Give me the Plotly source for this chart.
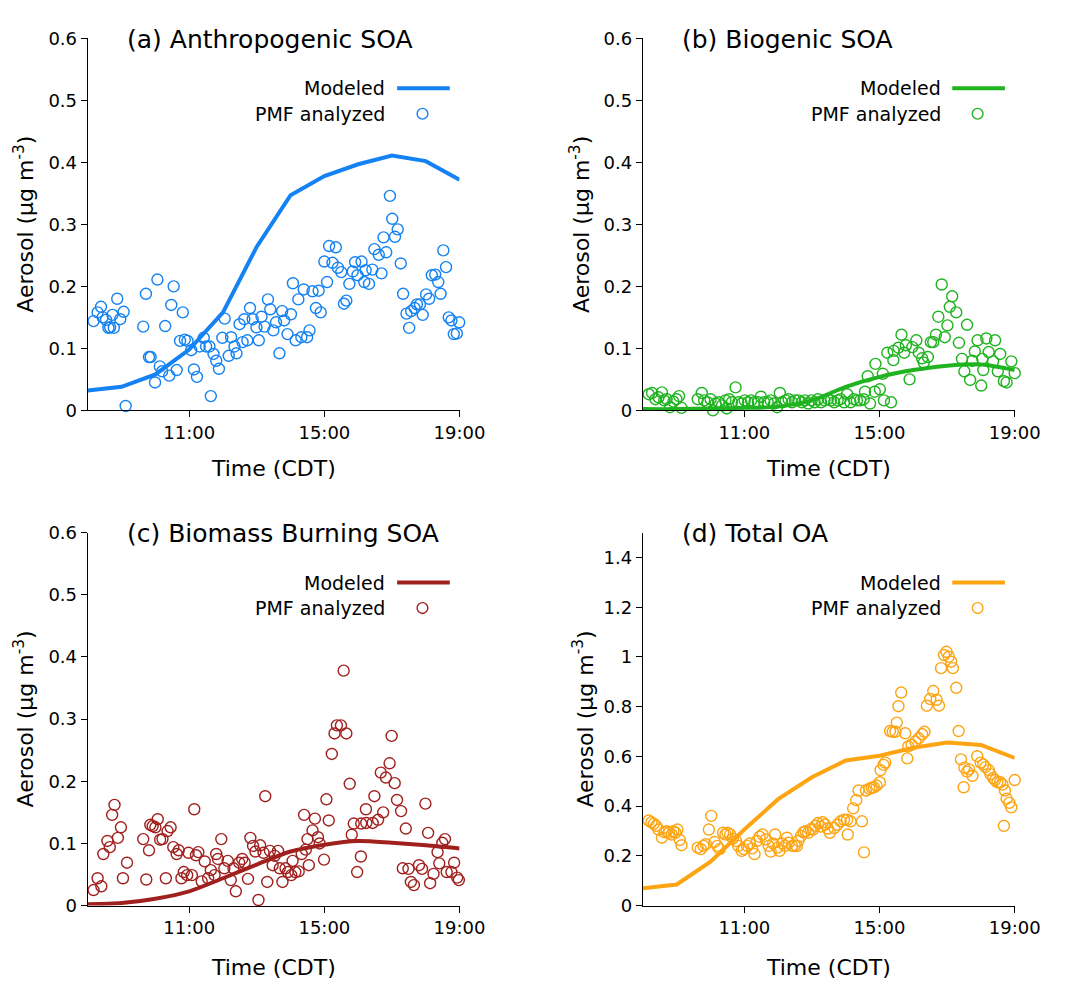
import plotly.graph_objects as go

# ---------------- data ----------------
model_hours = [8, 9, 10, 11, 12, 13, 14, 15, 16, 17, 18, 19]
tick_vals = [11, 15, 19]
tick_text = ["11:00", "15:00", "19:00"]

anth_model = [0.032, 0.038, 0.058, 0.098, 0.158, 0.264, 0.347, 0.378, 0.397, 0.411, 0.402, 0.372]
anth_t = [8.17, 8.29, 8.39, 8.44, 8.54, 8.61, 8.66, 8.73, 8.77, 8.87,
          8.96, 9.06, 9.12, 9.64, 9.72, 9.81, 9.86, 9.99, 10.06, 10.13,
          10.20, 10.29, 10.41, 10.47, 10.54, 10.63, 10.73, 10.81, 10.87, 10.95,
          11.06, 11.14, 11.23, 11.31, 11.43, 11.50, 11.60, 11.64, 11.72, 11.80,
          11.88, 11.98, 12.05, 12.17, 12.24, 12.34, 12.40, 12.49, 12.58, 12.63,
          12.72, 12.80, 12.88, 12.99, 13.06, 13.14, 13.23, 13.33, 13.40, 13.49,
          13.57, 13.67, 13.75, 13.81, 13.91, 14.01, 14.07, 14.15, 14.23, 14.32,
          14.39, 14.49, 14.56, 14.65, 14.75, 14.83, 14.89, 15.00, 15.08, 15.14,
          15.24, 15.34, 15.40, 15.50, 15.58, 15.65, 15.74, 15.84, 15.91, 15.98,
          16.10, 16.18, 16.22, 16.32, 16.42, 16.48, 16.61, 16.69, 16.75, 16.83,
          16.94, 17.01, 17.09, 17.17, 17.26, 17.33, 17.43, 17.51, 17.57, 17.67,
          17.74, 17.83, 17.91, 18.01, 18.10, 18.18, 18.28, 18.37, 18.44, 18.52,
          18.60, 18.68, 18.76, 18.83, 18.92, 18.99]
anth_v = [0.144, 0.158, 0.167, 0.150, 0.146, 0.133, 0.134, 0.154, 0.133, 0.180,
          0.147, 0.159, 0.007, 0.135, 0.188, 0.086, 0.086, 0.045, 0.211, 0.071,
          0.063, 0.136, 0.056, 0.170, 0.200, 0.065, 0.112, 0.158, 0.114, 0.112,
          0.097, 0.066, 0.054, 0.103, 0.117, 0.103, 0.103, 0.023, 0.091, 0.080,
          0.067, 0.117, 0.148, 0.088, 0.118, 0.103, 0.092, 0.139, 0.110, 0.147,
          0.113, 0.165, 0.147, 0.134, 0.113, 0.151, 0.135, 0.179, 0.163, 0.129,
          0.142, 0.092, 0.160, 0.145, 0.123, 0.155, 0.205, 0.113, 0.179, 0.118,
          0.195, 0.118, 0.129, 0.192, 0.165, 0.193, 0.158, 0.240, 0.207, 0.265,
          0.238, 0.263, 0.230, 0.223, 0.172, 0.177, 0.204, 0.224, 0.239, 0.218,
          0.240, 0.207, 0.226, 0.204, 0.227, 0.260, 0.251, 0.221, 0.279, 0.255,
          0.346, 0.309, 0.280, 0.292, 0.237, 0.188, 0.156, 0.133, 0.160, 0.165,
          0.171, 0.171, 0.154, 0.187, 0.180, 0.218, 0.219, 0.207, 0.188, 0.258,
          0.231, 0.150, 0.145, 0.123, 0.124, 0.142]

bio_model = [0.002, 0.002, 0.003, 0.004, 0.006, 0.016, 0.038, 0.054, 0.065, 0.072, 0.074, 0.065]
bio_t = [8.17, 8.27, 8.37, 8.46, 8.56, 8.63, 8.70, 8.80, 8.90, 8.99,
         9.07, 9.14, 9.62, 9.74, 9.81, 9.91, 10.00, 10.07, 10.15, 10.24,
         10.34, 10.44, 10.48, 10.55, 10.63, 10.74, 10.82, 10.92, 11.01, 11.11,
         11.20, 11.30, 11.40, 11.49, 11.59, 11.69, 11.78, 11.88, 11.97, 12.05,
         12.12, 12.22, 12.31, 12.41, 12.50, 12.60, 12.70, 12.79, 12.89, 12.99,
         13.08, 13.18, 13.27, 13.37, 13.47, 13.56, 13.66, 13.76, 13.85, 13.95,
         14.04, 14.14, 14.24, 14.33, 14.43, 14.53, 14.57, 14.65, 14.72, 14.86,
         14.88, 15.01, 15.10, 15.13, 15.23, 15.34, 15.41, 15.42, 15.56, 15.65,
         15.73, 15.78, 15.89, 15.97, 16.09, 16.16, 16.26, 16.31, 16.43, 16.52,
         16.59, 16.67, 16.74, 16.84, 16.93, 17.01, 17.08, 17.15, 17.27, 17.35,
         17.44, 17.51, 17.59, 17.68, 17.75, 17.82, 17.90, 18.01, 18.04, 18.07,
         18.16, 18.23, 18.36, 18.42, 18.50, 18.57, 18.68, 18.76, 18.90, 19.00]
bio_v = [0.026, 0.028, 0.018, 0.021, 0.029, 0.016, 0.018, 0.005, 0.014, 0.018,
         0.023, 0.004, 0.018, 0.028, 0.016, 0.013, 0.018, 0.000, 0.011, 0.013,
         0.008, 0.016, 0.003, 0.018, 0.013, 0.037, 0.013, 0.011, 0.016, 0.013,
         0.016, 0.013, 0.013, 0.022, 0.013, 0.013, 0.016, 0.011, 0.005, 0.028,
         0.013, 0.016, 0.018, 0.013, 0.016, 0.016, 0.013, 0.016, 0.011, 0.016,
         0.013, 0.018, 0.013, 0.016, 0.018, 0.016, 0.013, 0.016, 0.018, 0.013,
         0.026, 0.013, 0.018, 0.016, 0.016, 0.018, 0.030, 0.055, 0.011, 0.030,
         0.075, 0.034, 0.059, 0.016, 0.093, 0.013, 0.081, 0.096, 0.101, 0.122,
         0.093, 0.105, 0.050, 0.102, 0.113, 0.093, 0.084, 0.077, 0.086, 0.110,
         0.110, 0.122, 0.151, 0.203, 0.118, 0.137, 0.167, 0.184, 0.158, 0.109,
         0.083, 0.063, 0.138, 0.049, 0.080, 0.095, 0.113, 0.040, 0.083, 0.065,
         0.116, 0.094, 0.079, 0.113, 0.063, 0.091, 0.047, 0.045, 0.079, 0.060]

bb_model = [0.002, 0.004, 0.011, 0.023, 0.044, 0.066, 0.087, 0.098, 0.104, 0.101, 0.097, 0.092]
bb_t = [8.17, 8.29, 8.40, 8.46, 8.58, 8.65, 8.72, 8.79, 8.89, 8.98,
        9.04, 9.16, 9.64, 9.73, 9.81, 9.85, 9.92, 10.00, 10.07, 10.14,
        10.21, 10.31, 10.36, 10.45, 10.53, 10.63, 10.69, 10.77, 10.84, 10.94,
        10.98, 11.08, 11.15, 11.20, 11.27, 11.37, 11.46, 11.56, 11.64, 11.75,
        11.80, 11.85, 11.95, 12.04, 12.14, 12.23, 12.31, 12.38, 12.48, 12.57,
        12.64, 12.74, 12.81, 12.89, 12.96, 13.05, 13.10, 13.20, 13.25, 13.31,
        13.39, 13.47, 13.53, 13.63, 13.68, 13.76, 13.85, 13.92, 14.02, 14.06,
        14.14, 14.24, 14.33, 14.40, 14.45, 14.50, 14.54, 14.65, 14.72, 14.81,
        14.86, 14.99, 15.06, 15.13, 15.22, 15.30, 15.37, 15.49, 15.57, 15.65,
        15.75, 15.81, 15.87, 15.97, 16.08, 16.09, 16.23, 16.24, 16.43, 16.48,
        16.59, 16.67, 16.74, 16.82, 16.93, 16.99, 17.08, 17.15, 17.27, 17.32,
        17.41, 17.49, 17.56, 17.65, 17.80, 17.89, 17.99, 18.07, 18.13, 18.23,
        18.35, 18.40, 18.49, 18.57, 18.62, 18.76, 18.84, 18.93, 18.98]
bb_v = [0.025, 0.044, 0.031, 0.083, 0.104, 0.094, 0.146, 0.162, 0.109, 0.126,
        0.044, 0.069, 0.107, 0.042, 0.089, 0.130, 0.128, 0.126, 0.139, 0.106,
        0.107, 0.044, 0.120, 0.126, 0.094, 0.083, 0.089, 0.044, 0.054, 0.049,
        0.085, 0.049, 0.155, 0.081, 0.086, 0.039, 0.071, 0.044, 0.057, 0.049,
        0.083, 0.075, 0.107, 0.060, 0.072, 0.041, 0.060, 0.023, 0.069, 0.075,
        0.069, 0.043, 0.109, 0.096, 0.087, 0.009, 0.097, 0.085, 0.176, 0.038,
        0.088, 0.065, 0.080, 0.088, 0.060, 0.038, 0.060, 0.054, 0.049, 0.072,
        0.054, 0.055, 0.083, 0.146, 0.090, 0.107, 0.065, 0.121, 0.140, 0.110,
        0.100, 0.074, 0.171, 0.137, 0.244, 0.277, 0.290, 0.290, 0.378, 0.277,
        0.196, 0.114, 0.132, 0.054, 0.079, 0.132, 0.155, 0.133, 0.133, 0.176,
        0.138, 0.214, 0.150, 0.206, 0.229, 0.273, 0.197, 0.170, 0.152, 0.060,
        0.124, 0.059, 0.038, 0.033, 0.065, 0.059, 0.164, 0.117, 0.036, 0.051,
        0.086, 0.068, 0.101, 0.107, 0.054, 0.054, 0.069, 0.045, 0.041]

oa_model = [0.070, 0.085, 0.177, 0.306, 0.428, 0.516, 0.584, 0.603, 0.635, 0.656, 0.646, 0.594]
oa_t = [8.17, 8.25, 8.32, 8.39, 8.46, 8.56, 8.64, 8.70, 8.77, 8.85,
        8.90, 8.96, 9.02, 9.09, 9.14, 9.62, 9.71, 9.79, 9.86, 9.95,
        10.02, 10.12, 10.20, 10.27, 10.37, 10.44, 10.50, 10.58, 10.66, 10.75,
        10.82, 10.92, 10.98, 11.08, 11.16, 11.23, 11.30, 11.37, 11.45, 11.54,
        11.64, 11.72, 11.78, 11.85, 11.91, 11.98, 12.04, 12.12, 12.20, 12.26,
        12.31, 12.41, 12.49, 12.55, 12.60, 12.68, 12.75, 12.81, 12.89, 12.97,
        13.03, 13.10, 13.18, 13.26, 13.32, 13.39, 13.47, 13.53, 13.66, 13.75,
        13.85, 13.95, 14.04, 14.06, 14.14, 14.22, 14.31, 14.38, 14.48, 14.54,
        14.60, 14.70, 14.77, 14.83, 14.91, 15.01, 15.03, 15.12, 15.17, 15.31,
        15.39, 15.47, 15.51, 15.56, 15.64, 15.76, 15.82, 15.85, 15.95, 16.06,
        16.16, 16.26, 16.33, 16.40, 16.50, 16.59, 16.69, 16.76, 16.82, 16.91,
        16.98, 17.05, 17.12, 17.17, 17.27, 17.34, 17.41, 17.49, 17.51, 17.59,
        17.65, 17.75, 17.89, 17.99, 18.07, 18.13, 18.23, 18.28, 18.36, 18.42,
        18.49, 18.57, 18.64, 18.68, 18.71, 18.76, 18.84, 18.90, 19.00]
oa_v = [0.342, 0.335, 0.329, 0.321, 0.306, 0.273, 0.295, 0.299, 0.293, 0.286,
        0.299, 0.293, 0.306, 0.264, 0.243, 0.233, 0.227, 0.240, 0.247, 0.306,
        0.361, 0.256, 0.240, 0.227, 0.293, 0.286, 0.293, 0.286, 0.269, 0.260,
        0.240, 0.220, 0.227, 0.240, 0.250, 0.230, 0.207, 0.260, 0.277, 0.286,
        0.266, 0.240, 0.217, 0.250, 0.286, 0.233, 0.220, 0.250, 0.240, 0.273,
        0.253, 0.240, 0.242, 0.239, 0.260, 0.280, 0.295, 0.299, 0.293, 0.308,
        0.306, 0.321, 0.332, 0.318, 0.335, 0.326, 0.310, 0.293, 0.312, 0.325,
        0.339, 0.345, 0.345, 0.286, 0.339, 0.391, 0.424, 0.463, 0.339, 0.214,
        0.463, 0.470, 0.474, 0.476, 0.483, 0.496, 0.545, 0.566, 0.575, 0.702,
        0.699, 0.699, 0.736, 0.802, 0.857, 0.693, 0.592, 0.640, 0.647, 0.660,
        0.673, 0.689, 0.699, 0.804, 0.831, 0.863, 0.828, 0.804, 0.955, 1.008,
        1.021, 1.001, 0.981, 0.955, 0.876, 0.702, 0.588, 0.476, 0.555, 0.539,
        0.548, 0.522, 0.601, 0.575, 0.568, 0.557, 0.545, 0.529, 0.513, 0.505,
        0.496, 0.496, 0.487, 0.321, 0.463, 0.430, 0.413, 0.395, 0.505]

# ---------------- layout helpers ----------------
W, H = 1069, 989
FONT = "DejaVu Sans"


def px(x):
    return x / W


def py(y):
    return 1 - y / H


panels = [
    dict(title="(a) Anthropogenic SOA", color="#1482F2", t=anth_t, v=anth_v, m=anth_model,
         box=(90, 471, 28, 408), yrange=[0, 0.6], dtick=0.1, shape="linear", ytitle_x=25, xtitle_y=467),
    dict(title="(b) Biogenic SOA", color="#1FB41F", t=bio_t, v=bio_v, m=bio_model,
         box=(659, 1040, 28, 408), yrange=[0, 0.6], dtick=0.1, shape="spline", ytitle_x=595, xtitle_y=467),
    dict(title="(c) Biomass Burning SOA", color="#A0201E", t=bb_t, v=bb_v, m=bb_model,
         box=(90, 471, 533, 914), yrange=[0, 0.6], dtick=0.1, shape="spline", ytitle_x=25, xtitle_y=977),
    dict(title="(d) Total OA", color="#FDA412", t=oa_t, v=oa_v, m=oa_model,
         box=(659, 1040, 533, 914), yrange=[0, 1.5], dtick=0.2, shape="linear", ytitle_x=598, xtitle_y=977),
]

fig = go.Figure()
annotations = []
shapes = []
layout_axes = {}

for i, p in enumerate(panels):
    n = "" if i == 0 else str(i + 1)
    xa, ya = "x" + n, "y" + n
    x0, x1, y0, y1 = p["box"]
    col = p["color"]

    fig.add_trace(go.Scatter(
        x=p["t"], y=p["v"], mode="markers", xaxis=xa, yaxis=ya, cliponaxis=False,
        marker=dict(symbol="circle-open", size=11, color=col, line=dict(width=1.4, color=col)),
        showlegend=False, hoverinfo="skip"))
    fig.add_trace(go.Scatter(
        x=model_hours, y=p["m"], mode="lines", xaxis=xa, yaxis=ya, cliponaxis=False,
        line=dict(color=col, width=4, shape=p["shape"], smoothing=0.8),
        showlegend=False, hoverinfo="skip"))

    axis_common = dict(showline=True, linecolor="black", linewidth=1.3, ticks="outside",
                       ticklen=6, tickwidth=1.3, tickcolor="black", showgrid=False,
                       zeroline=False, mirror=False,
                       tickfont=dict(family=FONT, size=18, color="black"))
    layout_axes["xaxis" + n] = dict(axis_common, domain=[px(x0), px(x1)], range=[8, 19],
                                    tickvals=tick_vals, ticktext=tick_text, anchor=ya)
    layout_axes["yaxis" + n] = dict(axis_common, domain=[py(y1), py(y0)], range=p["yrange"],
                                    dtick=p["dtick"], tick0=0, anchor=xa)

    # panel title
    annotations.append(dict(text=p["title"], x=px(x0 + 38), y=py(y0 + 1), xref="paper", yref="paper",
                            xanchor="left", yanchor="middle", showarrow=False,
                            font=dict(family=FONT, size=25, color="black")))
    # y title
    annotations.append(dict(text="Aerosol (µg m<sup>-3</sup>)", x=px(p["ytitle_x"]), y=py((y0 + y1) / 2),
                            xref="paper", yref="paper", xanchor="center", yanchor="middle",
                            textangle=-90, showarrow=False,
                            font=dict(family=FONT, size=22, color="black")))
    # x title
    annotations.append(dict(text="Time (CDT)", x=px((x0 + x1) / 2), y=py(p["xtitle_y"]),
                            xref="paper", yref="paper", xanchor="center", yanchor="middle",
                            showarrow=False, font=dict(family=FONT, size=22, color="black")))
    # legend (text left, symbol right)
    lx = x0 + 307
    ly1 = y0 + 51
    ly2 = y0 + 77
    annotations.append(dict(text="Modeled", x=px(lx), y=py(ly1), xref="paper", yref="paper",
                            xanchor="right", yanchor="middle", showarrow=False,
                            font=dict(family=FONT, size=19, color="black")))
    annotations.append(dict(text="PMF analyzed", x=px(lx), y=py(ly2), xref="paper", yref="paper",
                            xanchor="right", yanchor="middle", showarrow=False,
                            font=dict(family=FONT, size=19, color="black")))
    shapes.append(dict(type="line", xref="paper", yref="paper", x0=px(lx + 10), x1=px(lx + 64),
                       y0=py(ly1), y1=py(ly1), line=dict(color=col, width=4)))
    cx = lx + 36
    shapes.append(dict(type="circle", xref="paper", yref="paper", x0=px(cx - 5.5), x1=px(cx + 5.5),
                       y0=py(ly2 + 5.5), y1=py(ly2 - 5.5), line=dict(color=col, width=1.4)))

fig.update_layout(
    width=W, height=H, margin=dict(l=0, r=0, t=0, b=0),
    paper_bgcolor="white", plot_bgcolor="white",
    font=dict(family=FONT, color="black"),
    annotations=annotations, shapes=shapes, showlegend=False,
    **layout_axes)

fig.write_html("out.html")
